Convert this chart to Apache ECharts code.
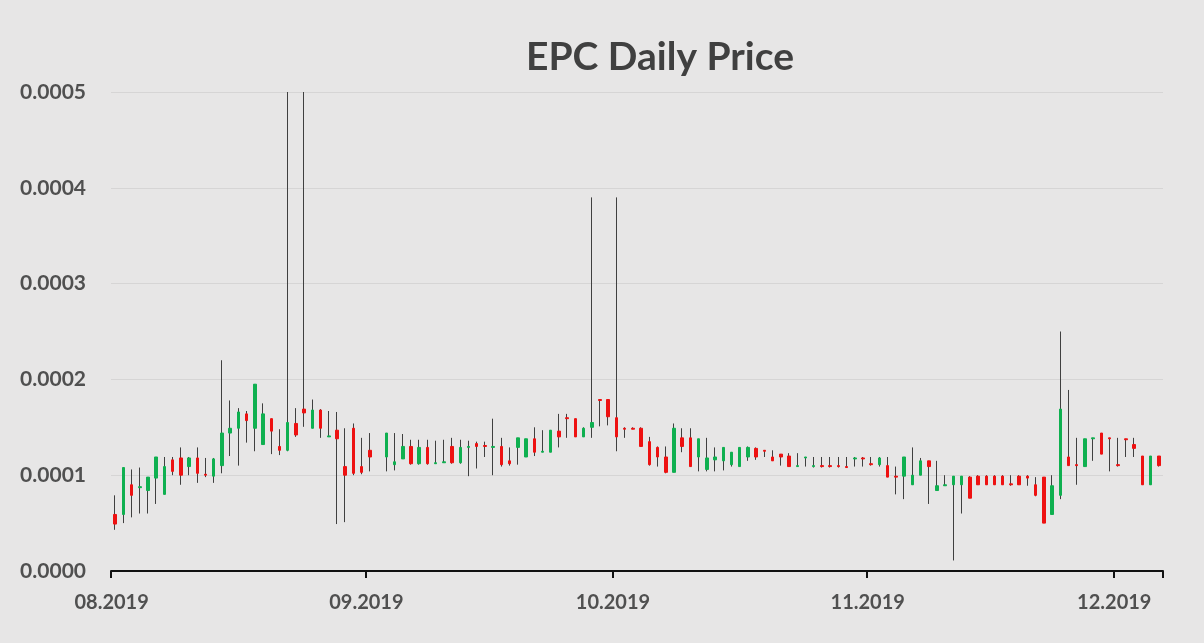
<!DOCTYPE html>
<html>
<head>
<meta charset="utf-8">
<script src="https://cdn.jsdelivr.net/npm/echarts@6/dist/echarts.min.js"></script>
<style>
html,body{margin:0;padding:0;background:#e7e6e6;}
#chart{width:1204px;height:643px;}
</style>
</head>
<body>
<div id="chart"></div>
<script>
// Values in units of 0.0001
const openE4 = [0.59,0.59,0.90,0.87,0.84,0.97,0.80,1.16,1.18,1.09,1.18,1.01,0.99,1.10,1.44,1.49,1.64,1.49,1.32,1.59,1.30,1.26,1.54,1.69,1.49,1.68,1.40,1.47,1.09,1.49,1.09,
  1.26,null,1.19,1.11,1.17,1.30,1.12,1.29,1.12,1.13,1.30,1.13,1.29,1.33,1.31,1.29,1.30,1.15,1.29,1.19,1.38,1.24,1.24,1.46,1.60,1.59,1.40,1.50,1.79,1.79,
  1.60,1.49,1.49,1.49,1.35,1.29,1.19,1.03,1.39,1.39,1.19,1.06,1.16,1.15,1.11,1.09,1.19,1.28,1.26,1.19,1.22,1.20,1.09,1.18,1.09,1.10,1.10,1.10,1.09,1.17,1.18,
  1.12,1.11,1.10,0.99,0.99,0.90,1.00,1.15,0.84,0.89,0.90,0.90,0.98,0.99,0.99,0.99,0.99,0.91,0.99,0.99,0.90,0.98,0.59,0.79,1.19,1.11,1.09,1.38,1.44,1.39,
  1.11,1.38,1.32,1.20,0.90,1.20];
const closeE4 = [0.49,1.08,0.79,0.88,0.98,1.19,1.09,1.04,1.00,1.18,1.02,1.00,1.17,1.44,1.49,1.66,1.57,1.95,1.64,1.46,1.26,1.55,1.42,1.65,1.68,1.49,1.41,1.38,1.00,1.02,1.03,
  1.19,null,1.44,1.14,1.30,1.12,1.29,1.12,1.13,1.14,1.13,1.29,1.30,1.30,1.30,1.30,1.11,1.12,1.39,1.38,1.24,1.25,1.47,1.40,1.59,1.40,1.49,1.55,1.78,1.61,
  1.40,1.48,1.48,1.30,1.11,1.19,1.03,1.49,1.30,1.09,1.38,1.18,1.19,1.29,1.24,1.29,1.29,1.19,1.25,1.15,1.19,1.09,1.10,1.19,1.10,1.09,1.09,1.09,1.08,1.18,1.17,
  1.11,1.18,0.98,0.98,1.19,1.00,1.15,1.09,0.89,0.90,0.99,0.99,0.76,0.90,0.90,0.90,0.90,0.90,0.90,0.97,0.79,0.50,0.89,1.69,1.10,1.10,1.38,1.39,1.22,1.38,
  1.10,1.37,1.28,0.90,1.20,1.10];
const lowE4 = [0.43,0.50,0.56,0.60,0.60,0.70,0.80,1.00,0.90,1.00,0.92,0.98,0.92,1.02,1.20,1.10,1.34,1.25,1.32,1.22,1.21,1.25,1.40,1.505,1.49,1.39,1.40,0.49,0.51,1.00,1.01,
  1.04,null,1.04,1.05,1.17,1.11,1.11,1.11,1.12,1.13,1.12,1.12,0.99,1.07,1.19,1.00,1.09,1.10,1.11,1.19,1.20,1.24,1.24,1.29,1.39,1.40,1.40,1.39,1.51,1.52,
  1.25,1.39,1.48,1.30,1.10,1.09,1.02,1.03,1.24,1.09,1.04,1.04,1.04,1.05,1.09,1.09,1.15,1.16,1.19,1.15,1.10,1.09,1.09,1.09,1.08,1.08,1.08,1.08,1.08,1.09,1.09,
  1.10,1.09,0.98,0.80,0.75,0.90,1.00,0.70,0.84,0.89,0.11,0.60,0.76,0.90,0.90,0.90,0.90,0.89,0.90,0.89,0.78,0.50,0.59,0.75,1.10,0.90,1.09,1.15,1.22,1.04,
  1.09,1.19,1.19,0.90,0.90,1.09];
const highE4 = [0.79,1.08,1.06,1.08,0.98,1.19,1.19,1.19,1.29,1.19,1.29,1.18,1.18,2.20,1.78,1.70,1.67,1.95,1.75,1.59,1.48,5.00,1.70,5.00,1.79,1.69,1.67,1.66,1.49,1.54,1.39,
  1.44,null,1.44,1.44,1.43,1.37,1.37,1.37,1.36,1.37,1.39,1.37,1.36,1.35,1.35,1.59,1.39,1.29,1.39,1.38,1.50,1.47,1.47,1.64,1.64,1.59,1.50,3.90,1.79,1.79,
  3.90,1.50,1.50,1.50,1.40,1.30,1.30,1.54,1.49,1.49,1.38,1.39,1.29,1.29,1.24,1.29,1.30,1.29,1.26,1.26,1.22,1.23,1.23,1.19,1.19,1.19,1.19,1.19,1.19,1.19,1.19,
  1.19,1.19,1.19,1.09,1.19,1.29,1.18,1.15,1.15,1.00,0.99,0.99,0.99,1.00,1.00,1.00,1.00,1.00,1.00,1.00,0.98,0.98,1.00,2.50,1.89,1.39,1.38,1.39,1.44,1.39,
  1.39,1.38,1.39,1.20,1.20,1.20];
const yTicks = [0, 0.0001, 0.0002, 0.0003, 0.0004, 0.0005];

// Category dates: 1 Aug 2019 .. 6 Dec 2019
const dates = [];
{
  const d = new Date(Date.UTC(2019, 7, 1));
  for (let i = 0; i < openE4.length; i++) {
    const dd = new Date(d.getTime() + i * 86400000);
    dates.push(dd.getUTCFullYear() + '-' + String(dd.getUTCMonth() + 1).padStart(2, '0') + '-' + String(dd.getUTCDate()).padStart(2, '0'));
  }
}
const S = 1e-4;
const wickData = openE4.map((o, i) => o == null ? '-' : [lowE4[i] * S, lowE4[i] * S, lowE4[i] * S, highE4[i] * S]);
const bodyData = openE4.map((o, i) => {
  if (o == null) return '-';
  const c = closeE4[i];
  return [o * S, c * S, Math.min(o, c) * S, Math.max(o, c) * S];
});
const isMonthStart = (idx, val) => typeof val === 'string' ? val.slice(8) === '01' : dates[idx].slice(8) === '01';

const chart = echarts.init(document.getElementById('chart'));
chart.setOption({
  backgroundColor: '#e7e6e6',
  animation: false,
  title: {
    text: 'EPC Daily Price',
    left: 655,
    top: 33,
    textAlign: 'center',
    textStyle: { fontFamily: 'Lato', fontWeight: 'bold', fontSize: 39, color: '#404040' }
  },
  grid: { left: 111, right: 41, top: 92, bottom: 72 },
  xAxis: {
    type: 'category',
    data: dates,
    boundaryGap: true,
    axisLine: { lineStyle: { color: '#111', width: 2 } },
    axisTick: { show: true, interval: isMonthStart, length: 7, lineStyle: { color: '#111', width: 2 } },
    axisLabel: {
      interval: isMonthStart,
      margin: 22,
      padding: [0, 7, 0, 0],
      fontFamily: 'Lato', fontWeight: 'bold', fontSize: 20, color: '#505050',
      formatter: v => v.slice(5, 7) + '.' + v.slice(0, 4)
    },
    splitLine: { show: false }
  },
  yAxis: {
    type: 'value',
    min: yTicks[0],
    max: yTicks[yTicks.length - 1],
    interval: 0.0001,
    axisLine: { show: false },
    axisTick: { show: false },
    axisLabel: {
      margin: 25,
      fontFamily: 'Lato', fontWeight: 'bold', fontSize: 21, color: '#505050',
      formatter: v => v.toFixed(4)
    },
    splitLine: { lineStyle: { color: '#d6d5d5', width: 1 } }
  },
  series: [
    {
      name: 'wick',
      type: 'candlestick',
      data: wickData,
      barWidth: 1,
      clip: true,
      itemStyle: {
        color: '#404040', color0: '#404040',
        borderColor: '#404040', borderColor0: '#404040', borderColorDoji: '#404040',
        borderWidth: 1
      }
    },
    {
      name: 'body',
      type: 'candlestick',
      data: bodyData,
      barWidth: 3,
      clip: true,
      itemStyle: {
        color: '#0fb050', color0: '#ee1111',
        borderColor: '#0fb050', borderColor0: '#ee1111',
        borderWidth: 1
      }
    }
  ]
});
</script>
</body>
</html>
